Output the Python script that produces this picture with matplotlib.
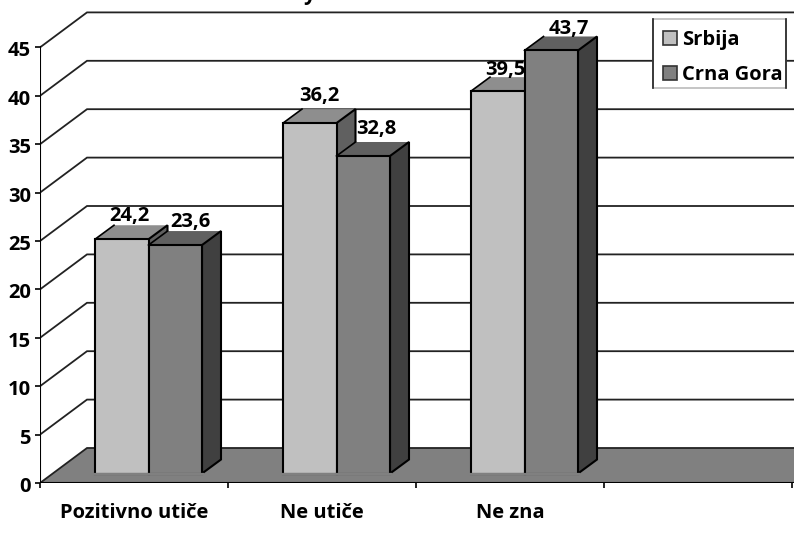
import matplotlib
matplotlib.use('Agg')
import matplotlib.pyplot as plt
from matplotlib.patches import Polygon, Patch, Rectangle
from matplotlib.transforms import ScaledTranslation

categories = ['Pozitivno utiče', 'Ne utiče', 'Ne zna', '']
series_names = ['Srbija', 'Crna Gora']
srbija = [24.2, 36.2, 39.5]
crna_gora = [23.6, 32.8, 43.7]
y_ticks = [0, 5, 10, 15, 20, 25, 30, 35, 40, 45]

# colours per series: front, top, side
SHADES = [('#c0c0c0', '#8e8e8e', '#606060'), ('#808080', '#606060', '#404040')]
# label nudges in pixels
NUDGE = [[(-2, 4), (0, 8), (-2, 2)], [(6, 4), (4, 8), (8, 2)]]

plt.rcParams['font.family'] = ['Open Sans', 'DejaVu Sans']
plt.rcParams['font.weight'] = 'bold'

PX_X = 188.0  # pixels per category
PX_Y = 9.68   # pixels per unit
WALL_DX, WALL_DY = 47 / PX_X, 35 / PX_Y
FRONT_DY = 9.5 / PX_Y
BAR_DX, BAR_DY = 19 / PX_X, 14 / PX_Y
BAR_W = 53.5 / PX_X
BAR_START = 55 / PX_X
FONT = 14.5

fig = plt.figure(figsize=(7.94, 5.42), dpi=100)
ax = fig.add_axes([40 / 794, 59 / 542, 754 / 794, 483 / 542])
x_max = 754 / PX_X
y_max = 483 / PX_Y
ax.set_xlim(0, x_max)
ax.set_ylim(0, y_max)
for s in ['top', 'right', 'left', 'bottom']:
    ax.spines[s].set_visible(False)

# floor
ax.add_patch(Polygon([(0, 0), (WALL_DX, WALL_DY), (x_max, WALL_DY), (x_max, 0)],
                     fc='#808080', ec='none', zorder=1))

# gridlines on the back wall and side wall
for v in y_ticks:
    ax.plot([0, WALL_DX, x_max], [v, v + WALL_DY, v + WALL_DY], color='#222222', lw=1.3,
            zorder=2, solid_joinstyle='miter')

# axis lines
ax.plot([0, 0], [0, 45], color='black', lw=1.5, zorder=3)
ax.plot([0, x_max], [0, 0], color='black', lw=1.5, zorder=3)

ax.set_yticks(y_ticks)
ax.set_yticklabels([str(v) for v in y_ticks], fontsize=FONT, fontweight='bold')
ax.set_xticks([0, 1, 2, 3, 4])
ax.set_xticklabels([''] * 5)
ax.tick_params(axis='both', length=3.6, width=1.2, color='black', pad=3)
ax.set_xticks([0.5, 1.5, 2.5, 3.5], minor=True)
ax.set_xticklabels(categories, minor=True, fontsize=FONT, fontweight='bold')
ax.tick_params(axis='x', which='minor', length=0, pad=14.5)

# y labels sit a little under their ticks
shift = ScaledTranslation(0, -1.5 / 100, fig.dpi_scale_trans)
for lab in ax.get_yticklabels():
    lab.set_transform(lab.get_transform() + shift)


def draw_bar(x0, value, shades, z):
    y0 = FRONT_DY
    x1 = x0 + BAR_W
    y1 = y0 + value
    front, top, side = shades
    kw = dict(ec='black', lw=1.5, joinstyle='miter', zorder=z)
    ax.add_patch(Polygon([(x0, y1), (x0 + BAR_DX, y1 + BAR_DY), (x1 + BAR_DX, y1 + BAR_DY), (x1, y1)],
                         fc=top, ec='none', zorder=z))
    ax.plot([x0, x0 + BAR_DX], [y1, y1 + BAR_DY], color='black', lw=1.2, zorder=z)
    ax.add_patch(Polygon([(x1, y0), (x1 + BAR_DX, y0 + BAR_DY), (x1 + BAR_DX, y1 + BAR_DY), (x1, y1)],
                         fc=side, **kw))
    ax.add_patch(Polygon([(x0, y0), (x0, y1), (x1, y1), (x1, y0)], fc=front, **kw))
    # floor-coloured edge along the bottom of the bar front
    ax.plot([x0 - 0.004, x1 + 0.004], [y0, y0], color='#808080', lw=1.6, zorder=z + 0.1)


for i in range(3):
    z = 10 + i * 10
    for j, vals in enumerate([srbija, crna_gora]):
        x0 = i + BAR_START + j * BAR_W
        draw_bar(x0, vals[i], SHADES[j], z + j * 2)
        ax.annotate(f'{vals[i]}'.replace('.', ','),
                    (x0 + BAR_W / 2 + BAR_DX / 2, FRONT_DY + vals[i] + BAR_DY),
                    xytext=NUDGE[j][i], textcoords='offset pixels',
                    ha='center', va='baseline', fontsize=FONT, fontweight='bold',
                    zorder=z + j * 2 + 1)

# title is cut off by the top edge of the picture, only the descender shows
fig.text(310 / 794, 1.0, 'y', ha='center', va='baseline', fontsize=15, fontweight='bold')

# legend box is drawn by hand: grey top and bottom, dark sides
bx0, bx1 = (653 - 40) / 754, (786 - 40) / 754
by0, by1 = (483 - 88) / 483, (483 - 19) / 483
ax.add_patch(Rectangle((bx0, by0), bx1 - bx0, by1 - by0, transform=ax.transAxes,
                       fc='white', ec='#bbbbbb', lw=1.2, zorder=59))
for x in [bx0, bx1]:
    ax.plot([x, x], [by0, by1], color='#222222', lw=1.2, transform=ax.transAxes, zorder=61)

handles = [Patch(fc=SHADES[0][0], ec='#333333', lw=1.2), Patch(fc=SHADES[1][0], ec='#333333', lw=1.2)]
leg = ax.legend(handles, series_names, loc='upper left',
                bbox_to_anchor=(bx0, by1 - 1 / 483), borderaxespad=0,
                prop={'weight': 'bold', 'size': FONT}, handlelength=0.7, handleheight=0.7,
                handletextpad=0.25, labelspacing=0.75, borderpad=0.5, frameon=False)
leg.set_zorder(60)

fig.savefig('out.png', dpi=100)
